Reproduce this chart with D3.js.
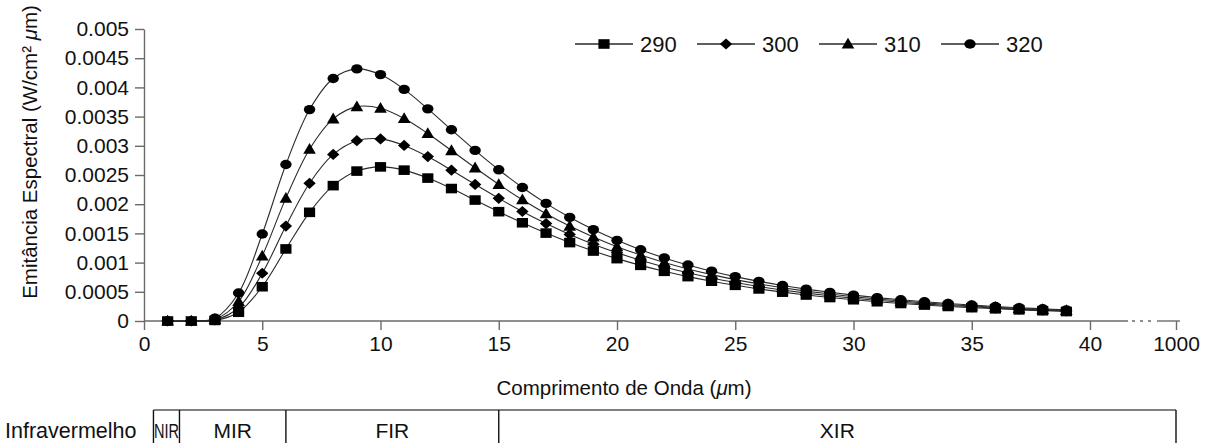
<!DOCTYPE html>
<html>
<head>
<meta charset="utf-8">
<script src="https://cdn.jsdelivr.net/npm/d3@7"></script>
<style>
  html, body { margin: 0; padding: 0; background: #fff; }
  svg { display: block; font-family: "Liberation Sans", Arial, Helvetica, sans-serif; }
</style>
</head>
<body>
<svg id="chart" width="1213" height="443"></svg>
<script>
// ---------------- data ----------------
const wavelengths = [1,2,3,4,5,6,7,8,9,10,11,12,13,14,15,16,17,18,19,20,21,22,23,24,25,26,27,28,29,30,31,32,33,34,35,36,37,38,39];
const seriesNames = ["290", "300", "310", "320"];
const t290 = [0,0,0.00001,0.00015,0.000587,0.001234,0.001861,0.002318,0.002567,0.002639,0.002583,0.002447,0.002268,0.002071,0.001872,0.001682,0.001505,0.001343,0.001198,0.001068,0.000953,0.000851,0.00076,0.000681,0.000611,0.000549,0.000494,0.000445,0.000402,0.000364,0.00033,0.0003,0.000273,0.000249,0.000228,0.000209,0.000191,0.000176,0.000162];
const t300 = [0,0,0.000018,0.000227,0.000818,0.001626,0.002358,0.002852,0.003088,0.003118,0.003007,0.002815,0.002583,0.002339,0.0021,0.001875,0.001668,0.001482,0.001316,0.001169,0.00104,0.000925,0.000825,0.000737,0.00066,0.000591,0.000531,0.000478,0.000432,0.00039,0.000354,0.000321,0.000292,0.000266,0.000243,0.000222,0.000203,0.000186,0.000171];
const t310 = [0,0,0.000029,0.000334,0.001114,0.002104,0.002942,0.003462,0.003671,0.003644,0.003468,0.003211,0.002919,0.002623,0.002339,0.002076,0.001838,0.001626,0.001439,0.001273,0.001129,0.001002,0.000891,0.000794,0.000709,0.000635,0.00057,0.000512,0.000461,0.000416,0.000377,0.000342,0.00031,0.000282,0.000258,0.000235,0.000215,0.000197,0.000181];
const t320 = [0,0,0.000048,0.00048,0.001489,0.00268,0.00362,0.004153,0.004317,0.004219,0.003966,0.003633,0.003275,0.002921,0.002589,0.002286,0.002014,0.001775,0.001565,0.001381,0.00122,0.00108,0.000959,0.000853,0.00076,0.000679,0.000608,0.000546,0.000491,0.000443,0.0004,0.000363,0.000329,0.000299,0.000273,0.000249,0.000228,0.000209,0.000191];
const seriesValues = [t290, t300, t310, t320];

const xTickValues = [0,5,10,15,20,25,30,35,40,1000];
const xTickLabels = ["0","5","10","15","20","25","30","35","40","1000"];
const yTickValues = [0,0.0005,0.001,0.0015,0.002,0.0025,0.003,0.0035,0.004,0.0045,0.005];
const yTickLabels = ["0","0.0005","0.001","0.0015","0.002","0.0025","0.003","0.0035","0.004","0.0045","0.005"];

const bandNames = ["NIR","MIR","FIR","XIR"];
const bandEdges = [0.4, 1.5, 6, 15, 1000];

// ---------------- layout ----------------
const svg = d3.select("#chart");
const axisColor = "#6a6a6a";
const x = d3.scaleLinear().domain([0, 40, 1000]).range([144, 1090, 1176]);
const y = d3.scaleLinear().domain([0, 0.005]).range([321, 29]);

// y axis
const yAxis = d3.axisLeft(y).tickValues(yTickValues)
  .tickFormat((d, i) => yTickLabels[i]).tickSize(9).tickSizeOuter(0).tickPadding(6);
const gy = svg.append("g").attr("transform", `translate(${x(0)},0)`).call(yAxis);
gy.select(".domain").attr("stroke", axisColor).attr("stroke-width", 1.4);
gy.selectAll(".tick line").attr("stroke", axisColor).attr("stroke-width", 1.4);
gy.selectAll(".tick text").attr("font-size", 21).attr("fill", "#111")
  .attr("font-family", '"Liberation Sans", Arial, sans-serif');

// x axis (ticks only, line drawn with a break)
const xAxis = d3.axisBottom(x).tickValues(xTickValues)
  .tickFormat((d, i) => xTickLabels[i]).tickSize(9).tickSizeOuter(0).tickPadding(6);
const gx = svg.append("g").attr("transform", `translate(0,${y(0)})`).call(xAxis);
gx.select(".domain").remove();
gx.selectAll(".tick line").attr("stroke", axisColor).attr("stroke-width", 1.4);
gx.selectAll(".tick text").attr("font-size", 21).attr("fill", "#111")
  .attr("font-family", '"Liberation Sans", Arial, sans-serif');

const breakStart = x(40) + 38, breakEnd = x(1000) - 19, axisEnd = x(1000) + 4;
svg.append("line").attr("x1", x(0)).attr("x2", breakStart).attr("y1", y(0)).attr("y2", y(0))
  .attr("stroke", axisColor).attr("stroke-width", 1.4);
svg.append("line").attr("x1", breakStart + 4).attr("x2", breakEnd - 3).attr("y1", y(0)).attr("y2", y(0))
  .attr("stroke", axisColor).attr("stroke-width", 1.4).attr("stroke-dasharray", "3,5");
svg.append("line").attr("x1", breakEnd).attr("x2", axisEnd).attr("y1", y(0)).attr("y2", y(0))
  .attr("stroke", axisColor).attr("stroke-width", 1.4);

// axis titles
const yt = svg.append("text").attr("transform", `translate(37,152) rotate(-90)`)
  .attr("text-anchor", "middle").attr("font-size", 20.5).attr("fill", "#111");
yt.append("tspan").text("Emitância Espectral (W/cm² ");
yt.append("tspan").attr("font-style", "italic").text("μ");
yt.append("tspan").text("m)");

const xt = svg.append("text").attr("x", 624).attr("y", 395)
  .attr("text-anchor", "middle").attr("font-size", 20.5).attr("fill", "#111");
xt.append("tspan").text("Comprimento de Onda (");
xt.append("tspan").attr("font-style", "italic").text("μ");
xt.append("tspan").text("m)");

// markers
const markerPaths = [
  "M-5.6,-4.8h11.2v9.6h-11.2Z",
  "M0,-5.6L6.2,0L0,5.6L-6.2,0Z",
  "M0,-6.2L6.3,4.6L-6.3,4.6Z",
  "M-5.7,0A5.7,4.7 0 1,0 5.7,0A5.7,4.7 0 1,0 -5.7,0Z"
];

const line = d3.line().x((d, i) => x(wavelengths[i])).y(d => y(d)).curve(d3.curveCatmullRom.alpha(0.5));

const order = [3, 2, 1, 0];
order.forEach(s => {
  svg.append("path").datum(seriesValues[s]).attr("d", line)
    .attr("fill", "none").attr("stroke", "#2a2a2a").attr("stroke-width", 1.1);
});
order.forEach(s => {
  svg.append("g").selectAll("path").data(seriesValues[s]).join("path")
    .attr("d", markerPaths[s])
    .attr("transform", (d, i) => `translate(${x(wavelengths[i])},${y(d)})`)
    .attr("fill", "#000");
});

// legend
const legendX0 = 575, legendStep = 122, legendY = 44;
seriesNames.forEach((name, s) => {
  const g = svg.append("g").attr("transform", `translate(${legendX0 + s * legendStep},${legendY})`);
  g.append("line").attr("x1", 0).attr("x2", 58).attr("y1", 0).attr("y2", 0)
    .attr("stroke", "#2a2a2a").attr("stroke-width", 1.3);
  g.append("path").attr("d", markerPaths[s]).attr("transform", "translate(29,0)").attr("fill", "#000");
  g.append("text").attr("x", 65).attr("y", 7.5).attr("font-size", 22).attr("fill", "#111").text(name);
});

// infrared bands table
const tableTop = 410, tableBottom = 450;
svg.append("text").attr("x", 5).attr("y", 438).attr("font-size", 21.5).attr("fill", "#111").text("Infravermelho");
svg.append("line").attr("x1", x(bandEdges[0])).attr("x2", x(bandEdges[bandEdges.length - 1]))
  .attr("y1", tableTop).attr("y2", tableTop).attr("stroke", "#555").attr("stroke-width", 1.6);
bandEdges.forEach(e => {
  svg.append("line").attr("x1", x(e)).attr("x2", x(e)).attr("y1", tableTop).attr("y2", tableBottom)
    .attr("stroke", "#111").attr("stroke-width", 1.4);
});
bandNames.forEach((name, i) => {
  const cx = (x(bandEdges[i]) + x(bandEdges[i + 1])) / 2;
  const t = svg.append("text").attr("x", cx).attr("y", 438).attr("text-anchor", "middle")
    .attr("font-size", 21).attr("fill", "#111").text(name);
  if (i === 0) t.attr("font-size", 20).attr("textLength", 25).attr("lengthAdjust", "spacingAndGlyphs");
});
</script>
</body>
</html>
